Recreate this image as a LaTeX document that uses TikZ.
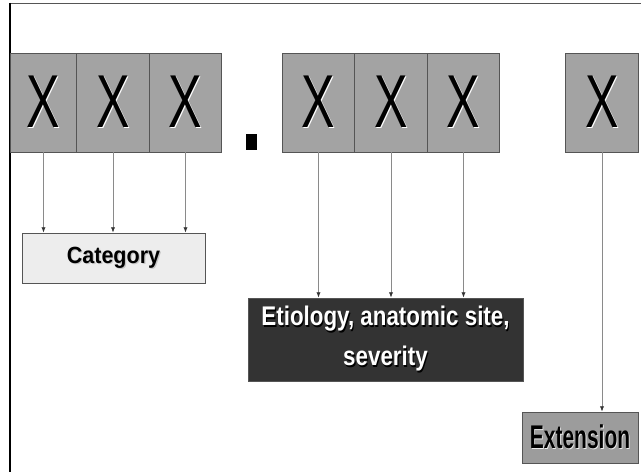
\documentclass[tikz,border=0pt]{standalone}
\usepackage{fontspec}
\setmainfont{Liberation Sans}
\usepackage[x11names]{xcolor}
\usepackage{tikz}
\usetikzlibrary{arrows.meta}

\definecolor{digitgray}{HTML}{A3A3A3}
\definecolor{framegray}{HTML}{555555}
\definecolor{catfill}{HTML}{EDEDED}
\definecolor{etiofill}{HTML}{333333}
\definecolor{extfill}{HTML}{9C9C9C}
\definecolor{wiregray}{HTML}{8A8A8A}

% text with a small drop shadow: colour, shadow colour, text
\newcommand{\shtext}[3]{\makebox[0pt][l]{\hspace*{1.1pt}\raisebox{-1.1pt}{\color{#2}#3}}{\color{#1}#3}}

\tikzset{
    digit/.style={draw=framegray, line width=0.8pt, fill=digitgray, inner sep=0pt,
        minimum width=21.75mm, minimum height=29.7mm,
        font=\fontsize{64}{64}\selectfont},
    codebox/.style={draw=framegray, line width=0.8pt, inner sep=0pt, align=center},
    wire/.style={->, draw=wiregray, line width=0.6pt, >={Latex[length=4.5pt,width=3.6pt,color=black!80]}}
}

\begin{document}
\begin{tikzpicture}[x=0.3mm, y=-0.3mm]
    \useasboundingbox (0,0) rectangle (641,472);
    % Slide frame
    \draw[framegray, line width=0.8pt] (641,3) -- (10,3);
    \draw[black, line width=1.2pt] (10,3) -- (10,472);

    % Draw the category digits
    \begin{scope}[every node/.style={digit}]
        \node[minimum width=20.1mm] (c1) at (43.5,102.5) {\scalebox{0.67}[1]{\shtext{black}{white}{X}}};
        \node (c2) at (113,102.5) {\scalebox{0.67}[1]{\shtext{black}{white}{X}}};
        \node (c3) at (185.5,102.5) {\scalebox{0.67}[1]{\shtext{black}{white}{X}}};
    \end{scope}

    % The decimal point
    \node[fill=black, inner sep=0pt, minimum width=3.3mm, minimum height=4.8mm] (point) at (251,142.5) {};

    % Draw the etiology digits
    \begin{scope}[every node/.style={digit}]
        \node (e1) at (318.5,102.5) {\scalebox{0.67}[1]{\shtext{black}{white}{X}}};
        \node (e2) at (391,102.5) {\scalebox{0.67}[1]{\shtext{black}{white}{X}}};
        \node (e3) at (463.5,102.5) {\scalebox{0.67}[1]{\shtext{black}{white}{X}}};
        % Extension digit
        \node (x1) at (602,102.5) {\scalebox{0.67}[1]{\shtext{black}{white}{X}}};
    \end{scope}

    % Label boxes
    \node[codebox, fill=catfill, minimum width=54.9mm, minimum height=15mm,
        font=\bfseries\fontsize{20}{22}\selectfont] (cat) at (113.5,258)
        {\scalebox{0.92}[1]{\shtext{black}{gray!45}{Category}}};
    \node[codebox, fill=etiofill, minimum width=82.5mm, minimum height=24.9mm,
        font=\bfseries\fontsize{23}{34}\selectfont] (etio) at (385.5,339.5)
        {\scalebox{0.83}[1]{\shtext{white}{black}{Etiology, anatomic site,}}\\
         \scalebox{0.83}[1]{\shtext{white}{black}{severity}}};
    \node[codebox, fill=extfill, minimum width=34.8mm, minimum height=15.3mm,
        font=\bfseries\fontsize{28}{30}\selectfont] (ext) at (580,437.5)
        {\scalebox{0.64}[1]{\shtext{black}{white!85!gray}{Extension}}};

    % Draw the arrows down to the labels
    \foreach \d in {c1,c2,c3}
        \draw[wire] (\d.south) -- (\d.south |- cat.north);
    \foreach \d in {e1,e2,e3}
        \draw[wire] (\d.south) -- (\d.south |- etio.north);
    \draw[wire] (x1.south) -- (x1.south |- ext.north);
\end{tikzpicture}
\end{document}
